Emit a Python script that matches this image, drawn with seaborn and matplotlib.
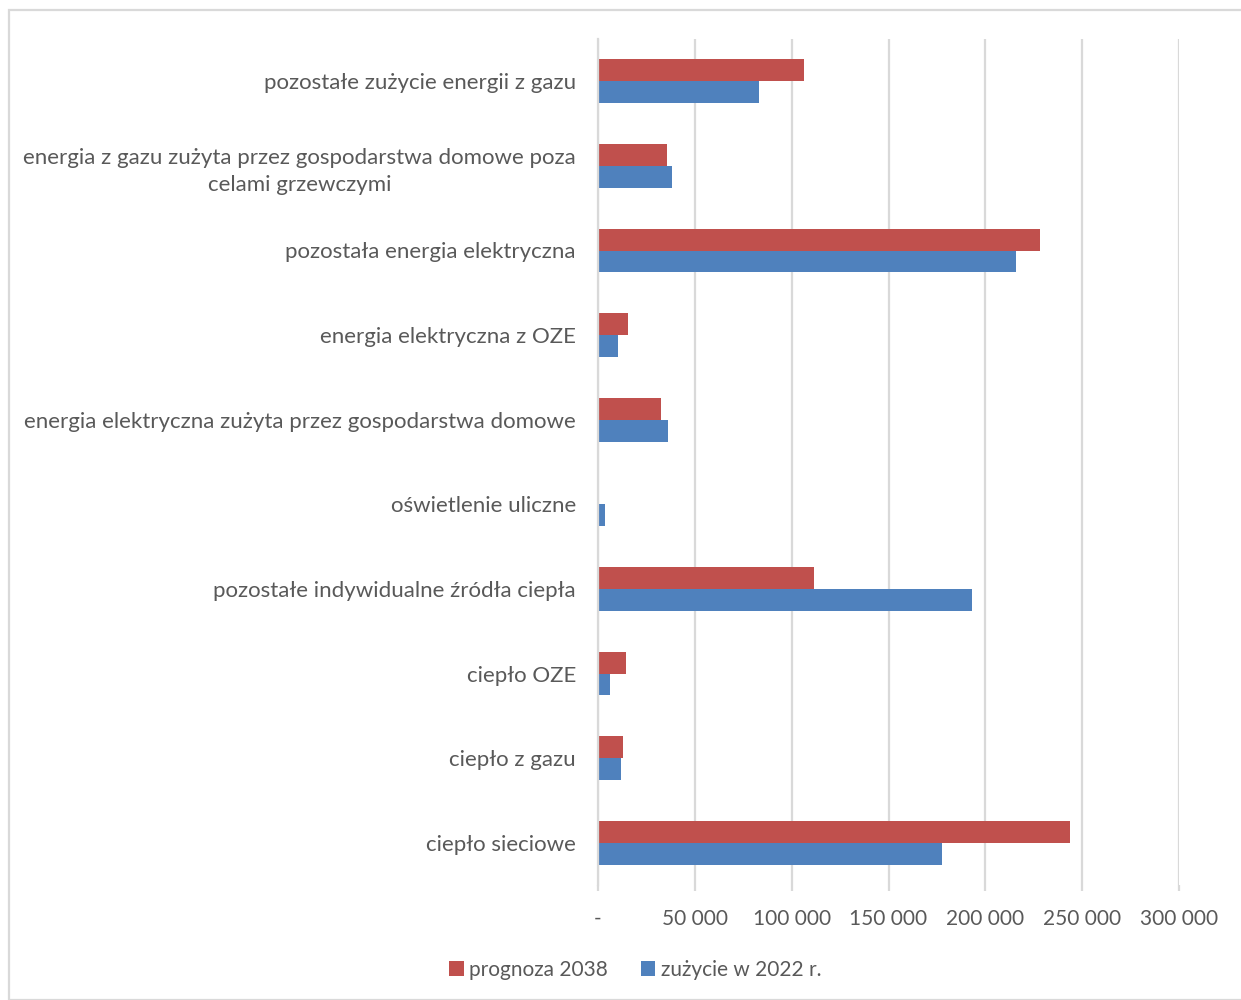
import matplotlib
matplotlib.use("Agg")
import matplotlib.pyplot as plt
import seaborn as sns
import pandas as pd
from matplotlib.patches import Rectangle, Patch
from matplotlib.ticker import FuncFormatter

categories = [
    "pozostałe zużycie energii z gazu",
    "energia z gazu zużyta przez gospodarstwa domowe poza\ncelami grzewczymi",
    "pozostała energia elektryczna",
    "energia elektryczna z OZE",
    "energia elektryczna zużyta przez gospodarstwa domowe",
    "oświetlenie uliczne",
    "pozostałe indywidualne źródła ciepła",
    "ciepło OZE",
    "ciepło z gazu",
    "ciepło sieciowe",
]
prognoza_2038 = [106400, 35600, 228300, 15300, 32400, 500, 111600, 14300, 13100, 243800]
zuzycie_2022 = [83200, 38200, 215900, 10300, 36150, 3400, 193200, 6400, 11700, 177700]
series_names = ["prognoza 2038", "zużycie w 2022 r."]
x_ticks = [0, 50000, 100000, 150000, 200000, 250000, 300000]

colors = {"prognoza 2038": "#C0504D", "zużycie w 2022 r.": "#4F81BD"}
text_color = "#595959"
grid_color = "#D9D9D9"

df = pd.DataFrame({
    "kategoria": categories * 2,
    "seria": [series_names[0]] * len(categories) + [series_names[1]] * len(categories),
    "wartosc": prognoza_2038 + zuzycie_2022,
})

sns.set_theme(style="white")
plt.rcParams["font.family"] = ["Lato", "DejaVu Sans"]

fig = plt.figure(figsize=(12.41, 10), dpi=100)
ax = fig.add_axes([598 / 1241, 1 - 885 / 1000, (1179 - 598) / 1241, (885 - 39) / 1000])

sns.barplot(data=df, y="kategoria", x="wartosc", hue="seria", order=categories,
            hue_order=series_names, palette=colors, orient="h", width=0.52,
            saturation=1, linewidth=0, legend=False, ax=ax)

ax.set_xlim(0, 300000)
ax.set_ylim(len(categories) - 0.5, -0.5)
ax.set_xticks(x_ticks)
ax.xaxis.set_major_formatter(FuncFormatter(
    lambda v, p: "-" if v == 0 else f"{int(v):,}".replace(",", " ")))
ax.grid(axis="x", color=grid_color, linewidth=1.6)
ax.set_axisbelow(True)
for s in ["top", "right", "bottom"]:
    ax.spines[s].set_visible(False)
ax.spines["left"].set_color(grid_color)
ax.spines["left"].set_linewidth(1.6)
ax.set_xlabel("")
ax.set_ylabel("")
ax.tick_params(axis="x", bottom=True, length=4, width=1.6, color=grid_color,
               pad=13, labelsize=15, labelcolor=text_color)
ax.tick_params(axis="y", left=False, length=0, pad=16, labelsize=16, labelcolor=text_color)
for lab in ax.get_yticklabels():
    lab.set_multialignment("center")
    lab.set_linespacing(1.45)

handles = [Patch(facecolor=colors[n], edgecolor="none") for n in series_names]
fig.legend(handles, series_names, loc="center", bbox_to_anchor=(635 / 1241, 1 - 970 / 1000),
           ncol=2, frameon=False, fontsize=15, labelcolor=text_color,
           handlelength=0.7, handleheight=0.7, handletextpad=0.25, columnspacing=1.6)

fig.patches.append(Rectangle((9 / 1241, 0.0), 1.5, 1 - 10 / 1000 - 0.0, transform=fig.transFigure,
                             fill=False, edgecolor=grid_color, linewidth=1.6))

fig.savefig("out.png", dpi=100)
